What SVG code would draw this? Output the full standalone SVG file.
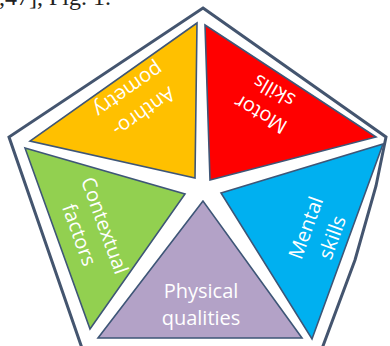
<svg xmlns="http://www.w3.org/2000/svg" width="390" height="346" viewBox="0 0 390 346">
  <style>
    .frame { fill: #ffffff; stroke: #44556f; stroke-width: 3; stroke-linejoin: miter; }
    .seg { stroke: #3e5677; stroke-width: 1.6; stroke-linejoin: miter; }
    .lbl { font-family: "Open Sans", "Liberation Sans", sans-serif; font-size: 20px; fill: #ffffff; text-anchor: middle; }
    .cap { font-family: "Liberation Serif", serif; font-size: 24px; fill: #222222; }
  </style>
  <rect width="390" height="346" fill="#ffffff"/>

  <!-- caption line running off the top edge -->
  <text class="cap" x="-1" y="5">,47], Fig. 1.</text>

  <!-- outer pentagon -->
  <polygon id="frame" class="frame" points="203,8 386,137 376,186 355,260 320,354 84,354 9,137"/>

  <g id="anthropometry">
    <polygon class="seg" fill="#ffc000" points="197,23 30,141 195,178"/>
    <g transform="translate(136.5,101.5) rotate(145)">
      <text class="lbl" x="0" y="-6">Anthro-</text>
      <text class="lbl" x="0" y="21">pometry</text>
    </g>
  </g>

  <g id="motor-skills">
    <polygon class="seg" fill="#ff0000" points="205,25 376,137 210,180"/>
    <g transform="translate(267,103) rotate(210)">
      <text class="lbl" x="0" y="-6">Motor</text>
      <text class="lbl" x="0" y="21">skills</text>
    </g>
  </g>

  <g id="contextual-factors">
    <polygon class="seg" fill="#92d050" points="25,148 185,194 90,329"/>
  </g>

  <g id="mental-skills">
    <polygon class="seg" fill="#00b0f0" points="221,193 383,144 312,339"/>
    <g transform="translate(319,232.5) rotate(-70)">
      <text class="lbl" x="0" y="-7">Mental</text>
      <text class="lbl" x="0" y="21">skills</text>
    </g>
  </g>

  <g id="physical-qualities">
    <polygon class="seg" fill="#b3a2c7" points="203,201 98,338 302,338"/>
    <text class="lbl" x="201" y="298">Physical</text>
    <text class="lbl" x="201" y="325">qualities</text>
  </g>

  <!-- drawn last: the word runs over the neighbouring edge -->
  <g id="contextual-factors-label" transform="translate(92.5,230) rotate(70)">
    <text class="lbl" x="0" y="-6">Contextual</text>
    <text class="lbl" x="0" y="21">factors</text>
  </g>

  <g id="connectors"/>
</svg>
